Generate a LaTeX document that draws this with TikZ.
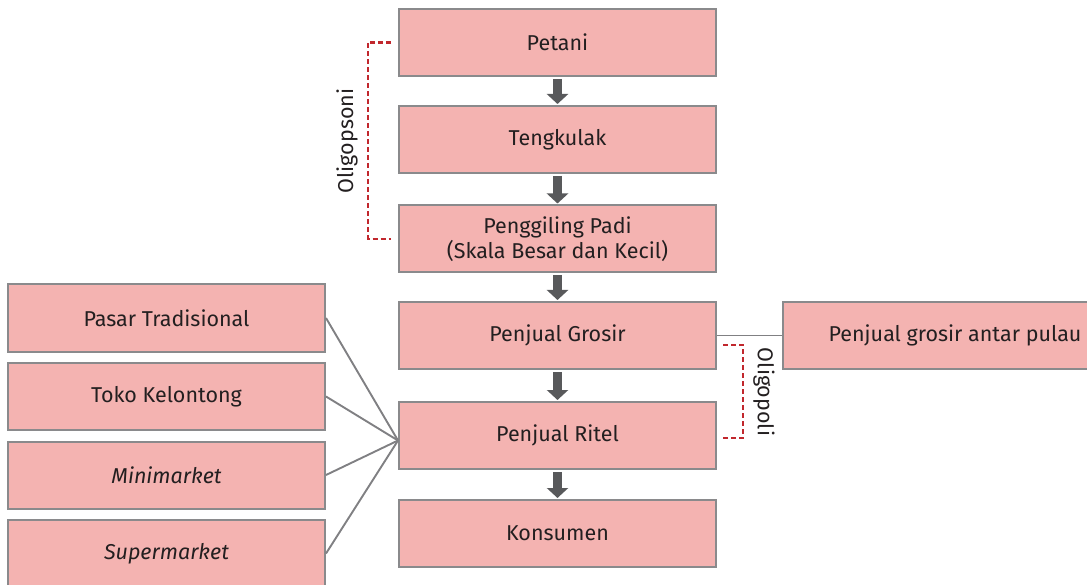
\documentclass[tikz,border=0pt]{standalone}
\usepackage{fontspec}
\setmainfont{Fira Sans}
\usetikzlibrary{arrows.meta,calc}
\definecolor{boxfill}{HTML}{F4B3B1}
\definecolor{boxdraw}{HTML}{8A8A8C}
\definecolor{txt}{HTML}{231F20}
\definecolor{arrowc}{HTML}{58595B}
\definecolor{dashred}{HTML}{C1272D}
\definecolor{linec}{HTML}{808083}
\begin{document}
\begin{tikzpicture}[x=1pt,y=-1pt,
  box/.style={draw=boxdraw, fill=boxfill, line width=2pt, minimum width=317pt,
    minimum height=67pt, inner sep=0pt, text=txt, align=center,
    font=\fontsize{21.5}{25}\selectfont},
  widebox/.style={box, minimum width=344pt},
  flowarrow/.style={draw=arrowc, line width=9pt, shorten <=2pt, shorten >=1pt,
    -{Triangle[width=21pt,length=10pt]}},
  link/.style={draw=linec, line width=1.9pt},
  bracket/.style={draw=dashred, line width=2.6pt, dash pattern=on 5pt off 3pt},
  sidelabel/.style={text=txt, font=\fontsize{21.5}{23}\selectfont, inner sep=0pt}]
\useasboundingbox (0,0) rectangle (1087,585);

% main column
\node[box] (petani)  at (557.5,42.5) {Petani};
\node[box] (tengk)   at (557.5,139.5) {Tengkulak};
\node[box] (giling)  at (557.5,239) {Penggiling Padi\\(Skala Besar dan Kecil)};
\node[box] (grosir)  at (557.5,335.5) {Penjual Grosir};
\node[box] (ritel)   at (557.5,435.5) {Penjual Ritel};
\node[box] (konsumen) at (557.5,533.5) {Konsumen};

% left column
\node[box] (pasar) at (166.5,318) {Pasar Tradisional};
\node[box] (toko)  at (166.5,396.5) {Toko Kelontong};
\node[box] (mini)  at (166.5,475) {\itshape Minimarket};
\node[box] (super) at (166.5,553.5) {\itshape Supermarket};

% right box
\node[widebox] (antar) at (955,335.5) {Penjual grosir antar pulau};

% arrows
\draw[flowarrow] (petani) -- (tengk);
\draw[flowarrow] (tengk) -- (giling);
\draw[flowarrow] (giling) -- (grosir);
\draw[flowarrow] (grosir) -- (ritel);
\draw[flowarrow] (ritel) -- (konsumen);

% links
\coordinate (conv) at ($(ritel.west)+(0,5)$);
\draw[link] (pasar.east) -- (conv);
\draw[link] (toko.east) -- (conv);
\draw[link] (mini.east) -- (conv);
\draw[link] (super.east) -- (conv);
\draw[link] (grosir.east) -- (antar.west);

% Oligopsoni bracket
\coordinate (o1) at ($(petani.west)+(-7,0)$);
\coordinate (o2) at ($(giling.west)+(-7,0)$);
\draw[bracket] (o1) -- ++(-23,0) |- (o2);
\node[sidelabel, rotate=90] (oligopsoni) at (347,141) {Oligopsoni};

% Oligopoli bracket
\coordinate (p1) at ($(grosir.east)+(6,9.5)$);
\coordinate (p2) at ($(ritel.east)+(6,2.5)$);
\draw[bracket] (p1) -- ++(20,0) |- (p2);
\node[sidelabel, rotate=-90] (oligopoli) at (764,392) {Oligopoli};
\end{tikzpicture}
\end{document}
